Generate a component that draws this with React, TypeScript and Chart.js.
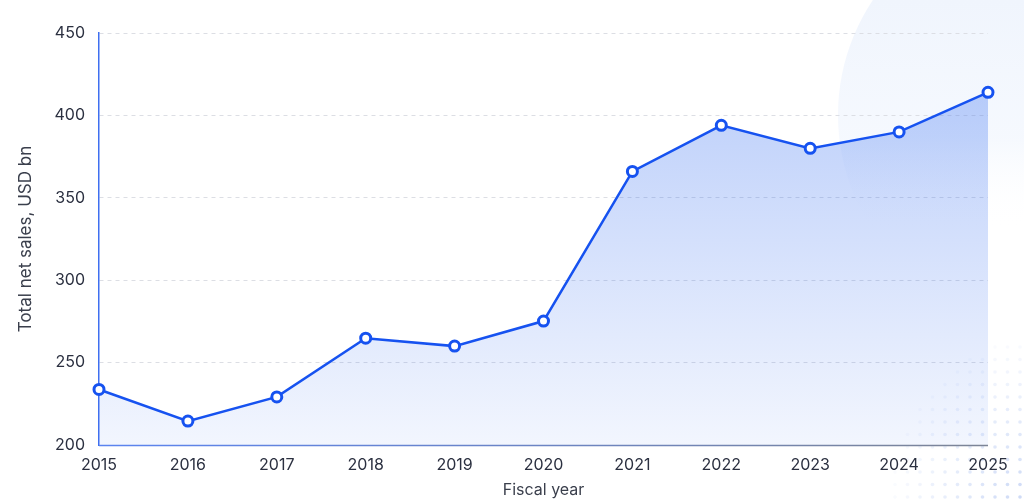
import React, { useEffect, useRef } from "react";
import { Chart, registerables } from "chart.js";

Chart.register(...registerables);

const years = ["2015", "2016", "2017", "2018", "2019", "2020", "2021", "2022", "2023", "2024", "2025"];
const netSales = [233.7, 214.5, 229.2, 264.8, 260.0, 275.2, 366.0, 394.0, 380.0, 390.0, 414.0];
const yTicks = [200, 250, 300, 350, 400, 450];

const FONT = "Inter, 'Noto Sans', sans-serif";
const LINE = "#1652f0";

const bgPlugin = {
  id: "bgDecor",
  beforeDraw(chart: any) {
    const { ctx, width, height } = chart;
    ctx.save();
    ctx.fillStyle = "#ffffff";
    ctx.fillRect(0, 0, width, height);
    // pale circle top-right, fading downward
    ctx.beginPath();
    ctx.arc(1045, 115, 207, 0, Math.PI * 2);
    const cg = ctx.createLinearGradient(0, 0, 0, 230);
    cg.addColorStop(0, "rgba(240,245,253,1)");
    cg.addColorStop(0.6, "rgba(243,247,254,0.8)");
    cg.addColorStop(1, "rgba(255,255,255,0)");
    ctx.fillStyle = cg;
    ctx.fill();
    // dot pattern bottom-right
    const step = 12.5;
    for (let x = 1020; x > 880; x -= step) {
      for (let y = 497; y > 340; y -= step) {
        const dx = (1024 - x) / 125;
        const dy = (500 - y) / 150;
        const d = Math.sqrt(dx * dx + dy * dy);
        if (d > 1.05) continue;
        const a = Math.max(0, 1 - d * 0.85);
        ctx.beginPath();
        ctx.arc(x, y, 1.8, 0, Math.PI * 2);
        ctx.fillStyle = `rgba(205,218,246,${a})`;
        ctx.fill();
      }
    }
    ctx.restore();
  },
  afterDatasetsDraw(chart: any) {
    const { ctx, chartArea } = chart;
    ctx.save();
    ctx.beginPath();
    ctx.moveTo(chartArea.left, chartArea.bottom + 0.5);
    ctx.lineTo(chartArea.right, chartArea.bottom + 0.5);
    const g = ctx.createLinearGradient(chartArea.left, 0, chartArea.right, 0);
    g.addColorStop(0, "#5b84f0");
    g.addColorStop(1, "#7d8596");
    ctx.strokeStyle = g;
    ctx.lineWidth = 1.5;
    ctx.stroke();
    ctx.restore();
  },
};

export default function App() {
  const ref = useRef<HTMLCanvasElement>(null);
  useEffect(() => {
    if (!ref.current) return;
    const chart = new Chart(ref.current, {
      type: "line",
      data: {
        labels: years,
        datasets: [
          {
            data: netSales,
            borderColor: LINE,
            borderWidth: 2.5,
            tension: 0,
            fill: "start",
            backgroundColor: (c: any) => {
              const { ctx, chartArea } = c.chart;
              if (!chartArea) return "rgba(22,82,240,0.2)";
              const g = ctx.createLinearGradient(0, chartArea.top + 60, 0, chartArea.bottom);
              g.addColorStop(0, "rgba(40,100,240,0.30)");
              g.addColorStop(1, "rgba(40,100,240,0.06)");
              return g;
            },
            pointRadius: 5,
            pointBorderWidth: 3,
            pointBackgroundColor: "#ffffff",
            pointBorderColor: LINE,
          },
        ],
      },
      options: {
        animation: false,
        responsive: false,
        maintainAspectRatio: false,
        layout: { padding: { left: 0, right: 36, top: 33, bottom: 0 } },
        plugins: { legend: { display: false }, tooltip: { enabled: false } },
        scales: {
          x: {
            offset: false,
            grid: { display: false },
            border: { display: false },
            ticks: { color: "#2b3040", font: { family: FONT, size: 16 }, padding: 3, maxRotation: 0 },
            title: {
              display: true,
              text: "Fiscal year",
              color: "#3a3f4c",
              font: { family: FONT, size: 16 },
              padding: { top: 2, bottom: 0 },
            },
            afterFit: (s: any) => {
              s.height = 55;
            },
          },
          y: {
            min: 200,
            max: 450,
            afterBuildTicks: (s: any) => {
              s.ticks = yTicks.map((v) => ({ value: v }));
            },
            grid: {
              color: "#dcdee4",
              lineWidth: 1,
              drawTicks: false,
            },
            border: { display: true, color: "#3f6ff0", width: 1.5, dash: [4, 4] as any },
            ticks: { color: "#2b3040", font: { family: FONT, size: 16 }, padding: 14 },
            title: {
              display: true,
              text: "Total net sales, USD bn",
              color: "#3a3f4c",
              font: { family: FONT, size: 17 },
              padding: { top: 16, bottom: 6 },
            },
            afterFit: (s: any) => {
              s.width = 99;
            },
          },
        },
      },
      plugins: [bgPlugin],
    });
    return () => chart.destroy();
  }, []);
  return (
    <div style={{ position: "fixed", left: 0, top: 0, width: 1024, height: 500 }}>
      <canvas ref={ref} width={1024} height={500} style={{ width: 1024, height: 500 }} />
    </div>
  );
}
